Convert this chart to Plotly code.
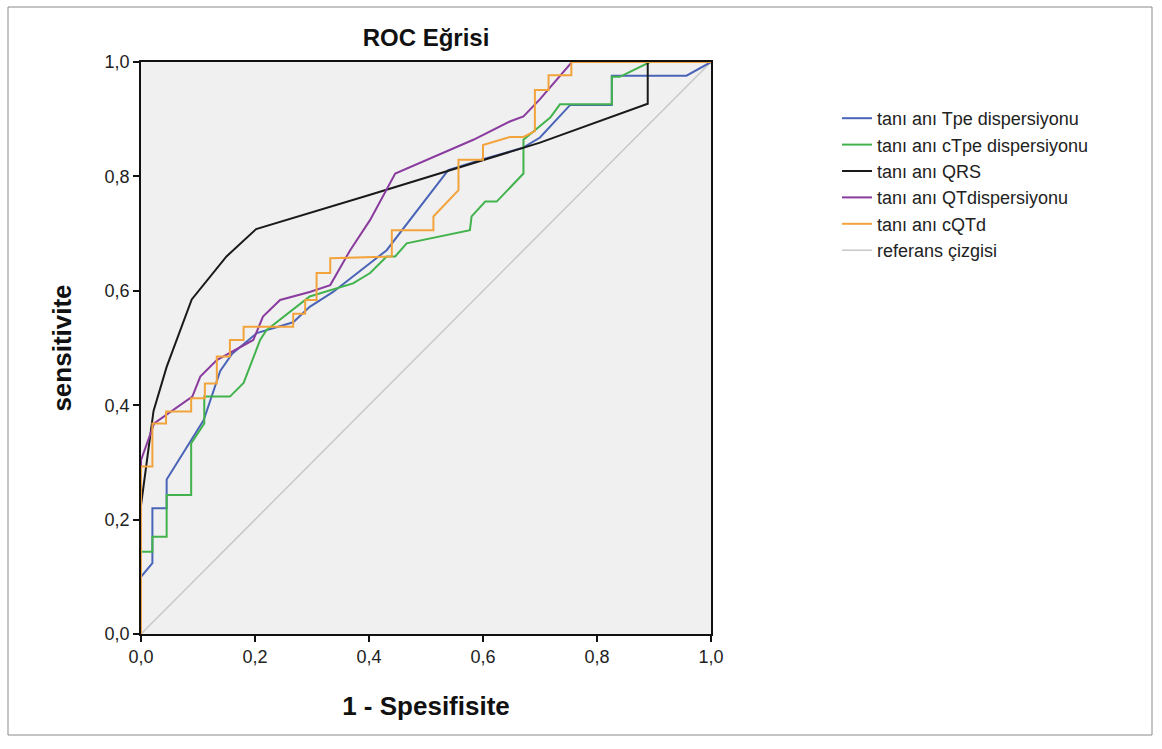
import plotly.graph_objects as go

# ---- data (1 - specificity, sensitivity) ----
tpe_x = [0, 0, 0.02, 0.02, 0.045, 0.045, 0.11, 0.139, 0.16, 0.203, 0.267, 0.296, 0.337, 0.402, 0.431, 0.539, 0.60, 0.67, 0.70, 0.753, 0.826, 0.826, 0.957, 1.0]
tpe_y = [0, 0.10, 0.124, 0.22, 0.22, 0.27, 0.374, 0.46, 0.49, 0.526, 0.545, 0.572, 0.598, 0.649, 0.671, 0.811, 0.83, 0.85, 0.868, 0.925, 0.925, 0.976, 0.976, 1.0]

ctpe_x = [0, 0, 0.02, 0.02, 0.045, 0.045, 0.088, 0.088, 0.111, 0.111, 0.156, 0.18, 0.209, 0.22, 0.296, 0.372, 0.402, 0.431, 0.446, 0.466, 0.577, 0.58, 0.604, 0.624, 0.671, 0.671, 0.70, 0.718, 0.735, 0.826, 0.826, 0.84, 0.893, 1.0]
ctpe_y = [0, 0.144, 0.144, 0.17, 0.17, 0.243, 0.243, 0.333, 0.368, 0.415, 0.415, 0.439, 0.514, 0.531, 0.59, 0.613, 0.631, 0.66, 0.66, 0.683, 0.706, 0.73, 0.756, 0.756, 0.805, 0.864, 0.888, 0.903, 0.926, 0.926, 0.974, 0.974, 1.0, 1.0]

qrs_x = [0, 0, 0.01, 0.022, 0.045, 0.089, 0.15, 0.202, 0.402, 0.70, 0.889, 0.889, 1.0]
qrs_y = [0, 0.225, 0.30, 0.39, 0.467, 0.585, 0.66, 0.708, 0.768, 0.859, 0.927, 1.0, 1.0]

qtd_x = [0, 0, 0.023, 0.09, 0.104, 0.133, 0.197, 0.214, 0.244, 0.296, 0.332, 0.367, 0.402, 0.446, 0.583, 0.647, 0.671, 0.70, 0.756, 1.0]
qtd_y = [0, 0.304, 0.368, 0.415, 0.45, 0.479, 0.514, 0.555, 0.584, 0.598, 0.61, 0.671, 0.724, 0.805, 0.864, 0.896, 0.905, 0.935, 1.0, 1.0]

cqtd_x = [0, 0, 0.02, 0.02, 0.044, 0.044, 0.088, 0.088, 0.112, 0.112, 0.133, 0.133, 0.156, 0.156, 0.18, 0.18, 0.267, 0.267, 0.288, 0.288, 0.308, 0.308, 0.332, 0.332, 0.44, 0.44, 0.513, 0.513, 0.557, 0.557, 0.60, 0.60, 0.647, 0.671, 0.691, 0.691, 0.715, 0.715, 0.755, 0.755, 1.0]
cqtd_y = [0, 0.293, 0.293, 0.368, 0.368, 0.389, 0.389, 0.412, 0.412, 0.438, 0.438, 0.485, 0.485, 0.514, 0.514, 0.537, 0.537, 0.56, 0.56, 0.584, 0.584, 0.631, 0.631, 0.657, 0.66, 0.706, 0.706, 0.73, 0.776, 0.829, 0.829, 0.855, 0.869, 0.869, 0.879, 0.951, 0.951, 0.977, 0.977, 1.0, 1.0]

ref_x = [0, 1]
ref_y = [0, 1]

names = ["tanı anı Tpe dispersiyonu", "tanı anı cTpe dispersiyonu", "tanı anı QRS",
         "tanı anı QTdispersiyonu", "tanı anı cQTd", "referans çizgisi"]
colors = ["#4a64b8", "#42b34c", "#1a1a1a", "#8a3c9e", "#f3a33b", "#c8c8c8"]
tick_vals = [0.0, 0.2, 0.4, 0.6, 0.8, 1.0]

series = [(tpe_x, tpe_y), (ctpe_x, ctpe_y), (qrs_x, qrs_y), (qtd_x, qtd_y), (cqtd_x, cqtd_y)]

fig = go.Figure()
fig.add_trace(go.Scatter(x=ref_x, y=ref_y, mode="lines", name=names[5],
                         line=dict(color=colors[5], width=1.5), legendrank=6))
for i, (xs, ys) in enumerate(series):
    fig.add_trace(go.Scatter(x=xs, y=ys, mode="lines", name=names[i],
                             line=dict(color=colors[i], width=2), legendrank=i + 1))

W, H = 1162, 749
L, R, T, B = 141, 711, 62, 634

def px_x(p):
    return (p - L) / (R - L)

def px_y(p):
    return (B - p) / (B - T)

fig.add_shape(type="rect", xref="paper", yref="paper",
              x0=px_x(8), x1=px_x(1152), y0=px_y(735), y1=px_y(7),
              line=dict(color="#8a8a8a", width=1), fillcolor="rgba(0,0,0,0)", layer="below")

FONT = "Liberation Sans, Arial"
axis_common = dict(range=[0, 1], tickvals=tick_vals, tickformat=".1f",
                   showgrid=False, zeroline=False, showline=True, mirror=True,
                   linecolor="#111", linewidth=1.5, ticks="outside", ticklen=6,
                   tickcolor="#111", tickwidth=1.5,
                   tickfont=dict(family=FONT, size=18, color="#222"))

fig.update_layout(
    width=W, height=H,
    margin=dict(l=L, r=W - R, t=T, b=H - B, pad=0),
    paper_bgcolor="white", plot_bgcolor="#f0f0f0",
    separators=",.",
    font=dict(family=FONT, color="#111"),
    title=dict(text="<b>ROC Eğrisi</b>", x=426 / W, xanchor="center",
               y=1 - 38 / H, yanchor="middle", font=dict(size=24, color="#111")),
    xaxis=dict(**axis_common, title=dict(text="<b>1 - Spesifisite</b>", standoff=30,
                                         font=dict(size=26, color="#111"))),
    yaxis=dict(**axis_common, title=dict(text="<b>sensitivite</b>", standoff=26,
                                         font=dict(size=26, color="#111"))),
    legend=dict(x=px_x(837), y=px_y(100), xanchor="left", yanchor="top",
                bgcolor="rgba(0,0,0,0)",
                font=dict(size=18, color="#222", family=FONT),
                tracegroupgap=0),
    showlegend=True,
)

fig.write_html("out.html",
               config={"displayModeBar": False},
               post_script="document.body.style.margin='0';document.body.style.overflow='hidden';")
